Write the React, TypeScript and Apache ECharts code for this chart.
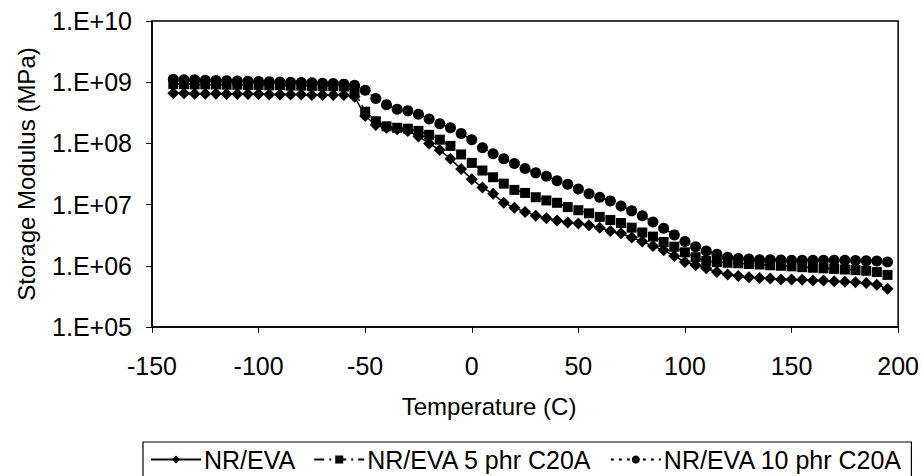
import React, { useEffect, useRef } from "react";
import * as echarts from "echarts";

const temperatures = [
  -140, -135, -130, -125, -120, -115, -110, -105, -100, -95, -90, -85, -80, -75, -70, -65, -60,
  -55, -50, -45, -40, -35, -30, -25, -20, -15, -10, -5,
  0, 5, 10, 15, 20, 25, 30, 35, 40, 45, 50, 55, 60, 65, 70, 75, 80, 85, 90, 95,
  100, 105, 110, 115, 120, 125, 130, 135, 140, 145, 150, 155, 160, 165, 170, 175, 180, 185, 190, 195,
];

const nrEva = [
  6.6e8, 6.6e8, 6.5e8, 6.5e8, 6.5e8, 6.4e8, 6.4e8, 6.4e8, 6.4e8, 6.3e8, 6.3e8, 6.3e8, 6.3e8, 6.2e8, 6.2e8, 6.2e8, 6.2e8,
  5.8e8, 2.8e8, 2.0e8, 1.8e8, 1.7e8, 1.6e8, 1.3e8, 1.0e8, 7.8e7, 5.6e7, 3.8e7,
  2.6e7, 1.9e7, 1.5e7, 1.07e7, 8.9e6, 7.6e6, 6.6e6, 6.0e6, 5.5e6, 5.1e6,
  4.9e6, 4.6e6, 4.2e6, 3.7e6, 3.4e6, 2.9e6, 2.5e6, 2.1e6, 1.8e6, 1.45e6,
  1.15e6, 1.02e6, 9.1e5, 7.9e5, 7.2e5, 6.8e5, 6.5e5, 6.3e5, 6.2e5, 6.0e5,
  6.0e5, 5.9e5, 5.75e5, 5.75e5, 5.6e5, 5.5e5, 5.4e5, 5.25e5, 4.9e5, 4.2e5,
];

const nrEva5 = [
  9.3e8, 9.3e8, 9.2e8, 9.2e8, 9.2e8, 9.1e8, 9.1e8, 9.0e8, 9.0e8, 8.9e8, 8.9e8, 8.8e8, 8.8e8, 8.7e8, 8.6e8, 8.6e8, 8.5e8,
  7.1e8, 3.3e8, 2.3e8, 1.9e8, 1.8e8, 1.74e8, 1.6e8, 1.38e8, 1.15e8, 9.1e7, 6.6e7,
  4.8e7, 3.6e7, 2.8e7, 2.2e7, 1.74e7, 1.55e7, 1.32e7, 1.17e7, 1.07e7, 9.1e6,
  8.1e6, 7.2e6, 6.3e6, 5.6e6, 5.0e6, 4.2e6, 3.5e6, 3.0e6, 2.45e6, 2.05e6,
  1.66e6, 1.38e6, 1.2e6, 1.15e6, 1.12e6, 1.1e6, 1.07e6, 1.05e6, 1.02e6, 1.0e6,
  9.8e5, 9.5e5, 9.3e5, 9.1e5, 8.9e5, 8.7e5, 8.5e5, 8.3e5, 7.9e5, 7.1e5,
];

const nrEva10 = [
  1.12e9, 1.1e9, 1.1e9, 1.08e9, 1.07e9, 1.06e9, 1.05e9, 1.04e9, 1.03e9, 1.02e9, 1.01e9, 1.0e9, 9.9e8, 9.8e8, 9.6e8, 9.5e8, 9.3e8,
  8.9e8, 7.4e8, 5.4e8, 4.3e8, 3.6e8, 3.4e8, 3.0e8, 2.5e8, 2.1e8, 1.8e8, 1.45e8,
  1.15e8, 8.5e7, 6.8e7, 5.6e7, 4.7e7, 3.9e7, 3.3e7, 2.9e7, 2.45e7, 2.15e7,
  1.8e7, 1.5e7, 1.32e7, 1.15e7, 9.5e6, 7.9e6, 6.6e6, 5.2e6, 4.1e6, 3.2e6,
  2.5e6, 2.05e6, 1.74e6, 1.55e6, 1.38e6, 1.32e6, 1.29e6, 1.26e6, 1.25e6, 1.24e6,
  1.23e6, 1.23e6, 1.23e6, 1.23e6, 1.23e6, 1.23e6, 1.22e6, 1.21e6, 1.2e6, 1.15e6,
];

const seriesNames = ["NR/EVA", "NR/EVA 5 phr C20A", "NR/EVA 10 phr C20A"];
const yTickLabels: Record<number, string> = {
  5: "1.E+05", 6: "1.E+06", 7: "1.E+07", 8: "1.E+08", 9: "1.E+09", 10: "1.E+10",
};

const FONT = "'Liberation Sans', Arial, Helvetica, sans-serif";

export default function App() {
  const ref = useRef<HTMLDivElement>(null);
  useEffect(() => {
    if (!ref.current) return;
    const chart = echarts.init(ref.current, undefined, { renderer: "svg" });
    const pair = (vals: number[]) => temperatures.map((t, i) => [t, vals[i]]);
    const mk = (name: string, vals: number[], symbol: string, size: number, dash: any) => ({
      name,
      type: "line",
      data: pair(vals),
      symbol,
      symbolSize: size,
      showSymbol: true,
      color: "#000",
      itemStyle: { color: "#000" },
      lineStyle: { color: "#000", width: 1.5, type: dash },
      z: 2,
    });
    chart.setOption({
      animation: false,
      backgroundColor: "#fff",
      textStyle: { fontFamily: FONT, color: "#000" },
      grid: {
        left: 152, right: 23, top: 21, bottom: 149,
        show: true, borderColor: "#000", borderWidth: 1.5, backgroundColor: "transparent",
      },
      xAxis: {
        type: "value", min: -150, max: 200, interval: 50,
        name: "Temperature (C)", nameLocation: "middle", nameGap: 67,
        nameTextStyle: { fontSize: 24, color: "#000", fontFamily: FONT, padding: [0, 72, 0, 0] },
        axisLine: { show: true, onZero: false, lineStyle: { color: "#000", width: 1.5 } },
        axisTick: { show: true, inside: false, length: 6, lineStyle: { color: "#000", width: 1 } },
        axisLabel: { fontSize: 25, color: "#000", margin: 26, fontFamily: FONT },
        splitLine: { show: false },
      },
      yAxis: {
        type: "log", logBase: 10, min: 1e5, max: 1e10,
        name: "Storage Modulus (MPa)", nameLocation: "middle", nameGap: 114,
        nameTextStyle: { fontSize: 24, color: "#000", fontFamily: FONT },
        axisLine: { show: true, onZero: false, lineStyle: { color: "#000", width: 1.5 } },
        axisTick: { show: true, inside: false, length: 6, lineStyle: { color: "#000", width: 1 } },
        axisLabel: {
          fontSize: 25, color: "#000", margin: 20, fontFamily: FONT,
          formatter: (v: number) => yTickLabels[Math.round(Math.log10(v))] ?? "",
        },
        splitLine: { show: false },
        minorTick: { show: false },
      },
      legend: {
        show: true,
        left: 143, top: 442,
        padding: [5, 9, 14, 7],
        itemWidth: 50, itemHeight: 10, itemGap: 18,
        borderColor: "#000", borderWidth: 1.2,
        textStyle: { fontSize: 25, color: "#000", fontFamily: FONT, padding: [0, 0, 0, -2] },
        data: seriesNames,
      },
      series: [
        mk(seriesNames[0], nrEva, "diamond", 12, "solid"),
        mk(seriesNames[1], nrEva5, "rect", 10, [10, 5, 2, 5]),
        mk(seriesNames[2], nrEva10, "circle", 11, [3, 5]),
      ],
    });
    return () => chart.dispose();
  }, []);
  return (
    <div
      ref={ref}
      style={{ position: "fixed", left: 0, top: 0, width: 922, height: 476, background: "#fff" }}
    />
  );
}
